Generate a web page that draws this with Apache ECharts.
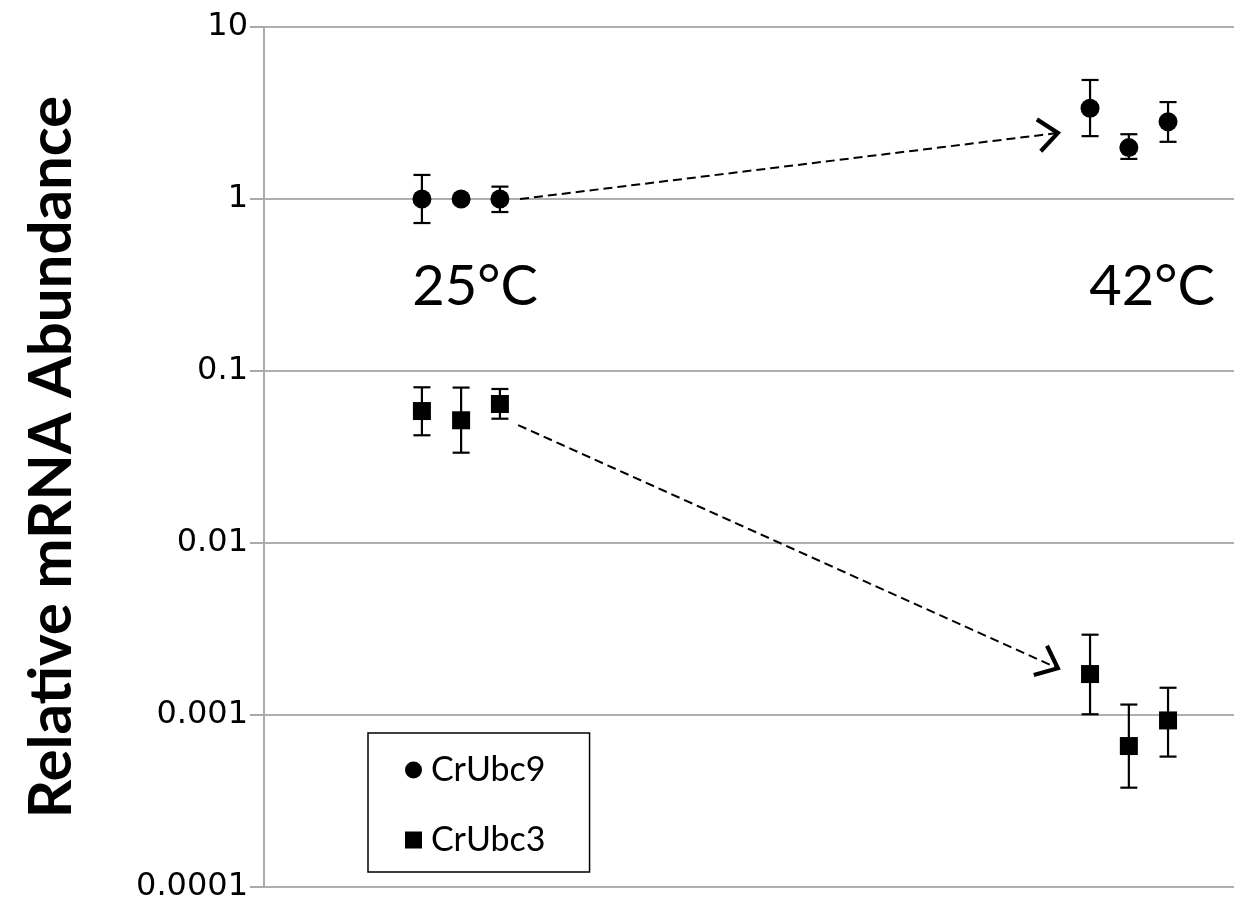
<!DOCTYPE html>
<html>
<head>
<meta charset="utf-8">
<style>
  html, body { margin: 0; padding: 0; background: #fff; }
  #chart { width: 1235px; height: 909px; }
</style>
<script src="https://cdn.jsdelivr.net/npm/echarts@6/dist/echarts.min.js"></script>
</head>
<body>
<div id="chart"></div>
<script>
// ---- data ----
const seriesNames = ['CrUbc9', 'CrUbc3'];
const xPos   = [4.07, 5.08, 6.08, 21.29, 22.29, 23.30];
const ubc9   = [1.0, 1.0, 1.0, 3.37, 1.99, 2.81];
const ubc9Hi = [1.38, 1.0, 1.18, 4.92, 2.38, 3.66];
const ubc9Lo = [0.725, 1.0, 0.84, 2.32, 1.71, 2.15];
const ubc3   = [0.0585, 0.0517, 0.0643, 0.00173, 0.00066, 0.00093];
const ubc3Hi = [0.0804, 0.0801, 0.0786, 0.00293, 0.00115, 0.00144];
const ubc3Lo = [0.0423, 0.0335, 0.0528, 0.00101, 0.000378, 0.000573];
const tempLabels = ['25°C', '42°C'];
const tempLabelX = [5.44, 22.89];
const tempLabelY = [0.308, 0.308];
// arrows: [x0, y0, x1, y1]
const arrowUp   = [6.6, 1.0, 20.46, 2.42];
const arrowDown = [6.55, 0.0485, 20.46, 0.00187];
const yTickLabels = ['0.0001', '0.001', '0.01', '0.1', '1', '10'];

const chart = echarts.init(document.getElementById('chart'), null, { renderer: 'canvas' });

function errData(vals, hi, lo) {
  return xPos.map((x, i) => [x, vals[i], hi[i], lo[i]]);
}

function renderErr(params, api) {
  const x = api.value(0);
  const hi = api.value(2), lo = api.value(3);
  if (hi === lo) return null;
  const pHi = api.coord([x, hi]);
  const pLo = api.coord([x, lo]);
  const half = 8.5;
  const st = { stroke: '#000', lineWidth: 2.2, fill: null };
  return {
    type: 'group',
    children: [
      { type: 'line', shape: { x1: pHi[0], y1: pHi[1], x2: pLo[0], y2: pLo[1] }, style: st },
      { type: 'line', shape: { x1: pHi[0] - half, y1: pHi[1], x2: pHi[0] + half, y2: pHi[1] }, style: st },
      { type: 'line', shape: { x1: pLo[0] - half, y1: pLo[1], x2: pLo[0] + half, y2: pLo[1] }, style: st }
    ]
  };
}

function renderArrow(params, api) {
  const p0 = api.coord([api.value(0), api.value(1)]);
  const p1 = api.coord([api.value(2), api.value(3)]);
  const dx = p1[0] - p0[0], dy = p1[1] - p0[1];
  const len = Math.sqrt(dx * dx + dy * dy);
  const ux = dx / len, uy = dy / len;
  const arm = 25, ang = 40 * Math.PI / 180;
  const cos = Math.cos(ang), sin = Math.sin(ang);
  const bx = -ux, by = -uy;
  const ax1 = p1[0] + arm * (bx * cos - by * sin);
  const ay1 = p1[1] + arm * (bx * sin + by * cos);
  const ax2 = p1[0] + arm * (bx * cos + by * sin);
  const ay2 = p1[1] + arm * (-bx * sin + by * cos);
  return {
    type: 'group',
    children: [
      { type: 'line', shape: { x1: p0[0], y1: p0[1], x2: p1[0] - ux * 3, y2: p1[1] - uy * 3 },
        style: { stroke: '#000', lineWidth: 2, lineDash: [9, 5], fill: null } },
      { type: 'polyline', shape: { points: [[ax1, ay1], [p1[0], p1[1]], [ax2, ay2]] },
        style: { stroke: '#000', lineWidth: 4.2, fill: null, lineJoin: 'miter' } }
    ]
  };
}

const option = {
  backgroundColor: '#fff',
  animation: false,
  grid: { left: 264, right: 1, top: 27, bottom: 22, containLabel: false },
  legend: {
    orient: 'vertical',
    left: 368,
    top: 733,
    padding: [20, 44, 15, 37],
    itemGap: 36,
    itemWidth: 17,
    itemHeight: 17,
    borderColor: '#000',
    borderWidth: 1.5,
    textStyle: { fontFamily: 'Lato', fontSize: 34, color: '#000', padding: [0, 0, 0, 4] },
    data: [
      { name: seriesNames[0], icon: 'circle', itemStyle: { color: '#000', opacity: 1 } },
      { name: seriesNames[1], icon: 'rect', itemStyle: { color: '#000', opacity: 1 } }
    ]
  },
  xAxis: {
    type: 'value', min: 0, max: 25,
    show: false
  },
  yAxis: {
    type: 'log', logBase: 10, min: 0.0001, max: 10,
    name: 'Relative mRNA Abundance',
    nameLocation: 'middle',
    nameRotate: 90,
    nameGap: 182,
    nameTextStyle: { fontFamily: 'Lato', fontWeight: 'bold', fontSize: 60, color: '#000' },
    axisLine: { show: true, lineStyle: { color: '#aaaaaa', width: 2 } },
    axisTick: { show: true, length: 14, lineStyle: { color: '#aaaaaa', width: 2 } },
    splitLine: { show: true, lineStyle: { color: '#b0b0b0', width: 2 } },
    axisLabel: {
      fontFamily: 'DejaVu Sans', fontSize: 32, color: '#000', margin: 16,
      formatter: function (v) {
        const idx = Math.round(Math.log10(v)) + 4;
        return yTickLabels[idx] !== undefined ? yTickLabels[idx] : '';
      }
    }
  },
  series: [
    {
      name: 'arrows', type: 'custom', renderItem: renderArrow, silent: true,
      data: [arrowUp, arrowDown], z: 1
    },
    {
      name: 'err9', type: 'custom', renderItem: renderErr, silent: true,
      data: errData(ubc9, ubc9Hi, ubc9Lo), z: 2
    },
    {
      name: 'err3', type: 'custom', renderItem: renderErr, silent: true,
      data: errData(ubc3, ubc3Hi, ubc3Lo), z: 2
    },
    {
      name: seriesNames[0], type: 'scatter', symbol: 'circle', symbolSize: 19,
      itemStyle: { color: '#000', opacity: 1 }, z: 3,
      data: xPos.map((x, i) => [x, ubc9[i]])
    },
    {
      name: seriesNames[1], type: 'scatter', symbol: 'rect', symbolSize: 18,
      itemStyle: { color: '#000', opacity: 1 }, z: 3,
      data: xPos.map((x, i) => [x, ubc3[i]])
    },
    {
      name: 'temps', type: 'scatter', symbolSize: 0, silent: true,
      itemStyle: { opacity: 1 },
      data: tempLabels.map((t, i) => ({ value: [tempLabelX[i], tempLabelY[i]], name: t })),
      label: {
        show: true, position: 'inside', formatter: '{b}',
        fontFamily: 'Lato', fontSize: 56, color: '#000', opacity: 1
      }
    }
  ]
};
chart.setOption(option);
</script>
</body>
</html>
